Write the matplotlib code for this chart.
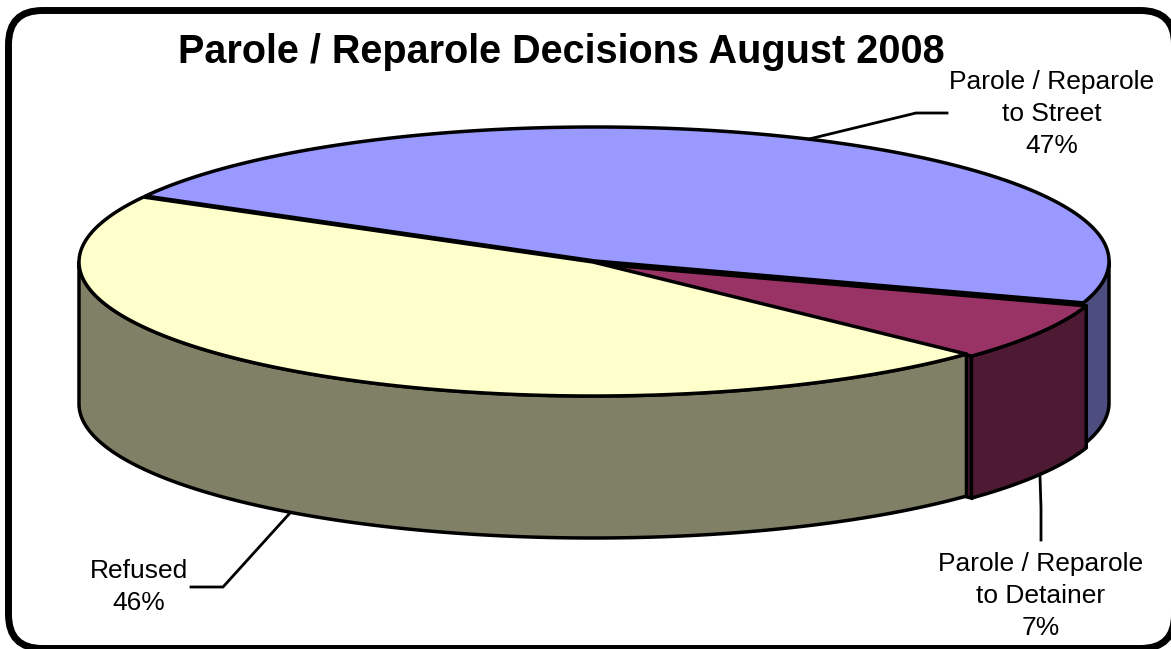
import numpy as np
import matplotlib
matplotlib.use("Agg")
import matplotlib.pyplot as plt
from matplotlib.patches import Polygon, FancyBboxPatch

title = "Parole / Reparole Decisions August 2008"
categories = ["Parole / Reparole\nto Street", "Refused", "Parole / Reparole\nto Detainer"]
values = [47, 46, 7]
top_colors = ["#9999FF", "#FFFFCC", "#993366"]
side_colors = ["#4D4D80", "#808066", "#4D1933"]

START = -18.2
RX, RY, DEPTH = 514, 134, 142
centres = [(595, 261), (593, 262), (598, 264)]
EC = "black"
LW = 2.5

fig = plt.figure(figsize=(11.71, 6.49), dpi=100)
ax = fig.add_axes([0, 0, 1, 1])
ax.set_xlim(0, 1171)
ax.set_ylim(649, 0)
ax.axis("off")
plt.rcParams["font.family"] = "Liberation Sans"

ax.add_patch(FancyBboxPatch((8.5, 10.5), 1166, 638, boxstyle="round,pad=0,rounding_size=34",
                            fc="white", ec="black", lw=5, zorder=1))

spans = np.array(values) / sum(values) * 360
starts = START + np.concatenate([[0], np.cumsum(spans)[:-1]])


def arc(c, a0, a1, dy=0):
    t = np.radians(np.linspace(a0, a1, 200))
    return np.column_stack([c[0] + RX * np.cos(t), c[1] - RY * np.sin(t) + dy])


def draw_wall(i, a0, a1, z):
    c = centres[i]
    pts = np.vstack([arc(c, a0, a1), arc(c, a1, a0, DEPTH)])
    ax.add_patch(Polygon(pts, closed=True, fc=side_colors[i], ec=EC, lw=LW, joinstyle="round", zorder=z))


def draw_top(i, z):
    c = centres[i]
    pts = np.vstack([[c], arc(c, starts[i], starts[i] + spans[i])])
    ax.add_patch(Polygon(pts, closed=True, fc=top_colors[i], ec=EC, lw=LW, joinstyle="round", zorder=z))


# blue slice: only the part of its wall right of the widest point shows
draw_wall(0, starts[0], 0, 2)
draw_top(0, 3)

# magenta slice: cut face, outer wall, top
c2 = centres[2]
edge = arc(c2, starts[2], starts[2])[0]
cut = np.array([c2, edge, edge + [0, DEPTH], np.array(c2) + [0, DEPTH]])
ax.add_patch(Polygon(cut, closed=True, fc=side_colors[2], ec=EC, lw=LW, zorder=4))
draw_wall(2, starts[2], starts[2] + spans[2], 5)
draw_top(2, 6)

# yellow slice: wall from the widest left point round the front
draw_wall(1, 180, starts[1] + spans[1], 7)
draw_top(1, 8)

# leader lines
leaders = [
    ([805, 916, 947], [140, 113, 113]),
    ([290, 223, 191], [513, 587, 587]),
    ([1040, 1041, 1041], [476, 508, 540]),
]
for xs, ys in leaders:
    ax.plot(xs, ys, color="black", lw=2.0, zorder=2, solid_joinstyle="miter")

ax.text(561, 52, title, ha="center", va="center", fontsize=28.5, fontweight="bold",
        family="Liberation Sans", zorder=10)

text_kw = dict(ha="center", va="center", fontsize=19, family="Liberation Sans",
               color="black", zorder=10, linespacing=1.41)
ax.text(1052, 114, f"{categories[0]}\n{values[0]}%", **text_kw)
ax.text(139, 587, f"{categories[1]}\n{values[1]}%", **text_kw)
ax.text(1041, 596, f"{categories[2]}\n{values[2]}%", **text_kw)

fig.savefig("out.png", dpi=100, facecolor="white")
